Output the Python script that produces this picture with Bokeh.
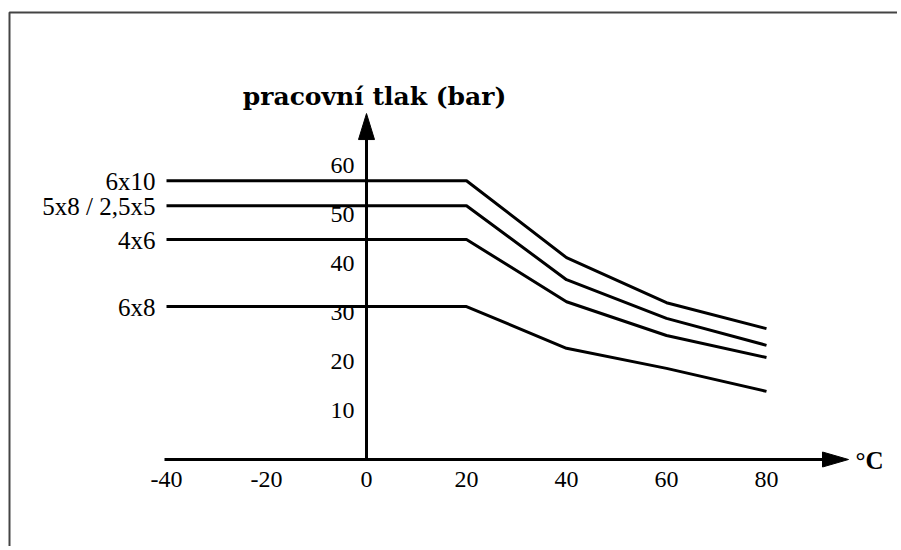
from bokeh.plotting import figure
from bokeh.models import LinearAxis, FixedTicker, Range1d
from bokeh.core.properties import value
from bokeh.embed import file_html
from bokeh.resources import INLINE

# ---------------- data ----------------
temps = [-40, 20, 40, 60, 80]
series_names = ["6x10", "5x8 / 2,5x5", "4x6", "6x8"]
p_6x10 = [56.9, 56.9, 41.2, 32.0, 26.7]
p_5x8 = [51.8, 51.8, 36.7, 28.8, 23.3]
p_4x6 = [44.9, 44.9, 32.2, 25.3, 20.8]
p_6x8 = [31.2, 31.2, 22.7, 18.6, 13.9]
x_ticks = [-40, -20, 0, 20, 40, 60, 80]
y_ticks = [10, 20, 30, 40, 50, 60]
y_title = "pracovní tlak (bar)"
x_title = "°C"
x_axis_start = -40.4
x_axis_tip = 96.4
y_axis_tip = 70.6

# ---------------- layout ----------------
W, H = 897, 546
X0_PX, PX_PER_X = 366.0, 5.0   # pixel of x=0 from figure left
Y0_PX, PX_PER_Y = 459.0, 4.9   # pixel of y=0 from figure top


def px_x(px):
    return (px - X0_PX) / PX_PER_X


def px_y(py):
    return (Y0_PX - py) / PX_PER_Y


SERIF = "Liberation Serif"

p = figure(width=W, height=H,
           x_range=Range1d(px_x(0), px_x(W)), y_range=Range1d(px_y(H), px_y(0)),
           output_backend="svg", toolbar_location=None,
           x_axis_type=None, y_axis_type=None, min_border=0,
           outline_line_color=None, background_fill_color="white",
           border_fill_color="white")

# frame border (only left and top visible in the reference)
p.line([px_x(9), px_x(9), px_x(W)], [px_y(H), px_y(12), px_y(12)],
       line_color="#444444", line_width=2)

# axes lines with arrow heads
p.line([x_axis_start, x_axis_tip - 24 / PX_PER_X], [0, 0], line_color="black", line_width=3)
p.line([0, 0], [0, y_axis_tip - 24 / PX_PER_Y], line_color="black", line_width=3)
p.patch([x_axis_tip, x_axis_tip - 26 / PX_PER_X, x_axis_tip - 26 / PX_PER_X],
        [0, 7.5 / PX_PER_Y, -7.5 / PX_PER_Y], color="black")
p.patch([0, 8 / PX_PER_X, -8 / PX_PER_X],
        [y_axis_tip, y_axis_tip - 26 / PX_PER_Y, y_axis_tip - 26 / PX_PER_Y], color="black")

# tick labels via axes at fixed locations
xaxis = LinearAxis(fixed_location=0, ticker=FixedTicker(ticks=x_ticks),
                   axis_line_color=None, major_tick_line_color=None,
                   minor_tick_line_color=None, major_tick_in=0, major_tick_out=0,
                   major_label_standoff=12,
                   major_label_overrides={t: str(t) for t in x_ticks},
                   major_label_text_font=SERIF, major_label_text_font_size="24px",
                   major_label_text_color="black")
p.add_layout(xaxis, "below")
yaxis = LinearAxis(fixed_location=0, ticker=FixedTicker(ticks=y_ticks),
                   axis_line_color=None, major_tick_line_color=None,
                   minor_tick_line_color=None, major_tick_in=0, major_tick_out=0,
                   major_label_standoff=12,
                   major_label_text_font=SERIF, major_label_text_font_size="24px",
                   major_label_text_color="black")
p.add_layout(yaxis, "left")

# series
all_series = [p_6x10, p_5x8, p_4x6, p_6x8]
for vals in all_series:
    p.line(temps, vals, line_color="black", line_width=3)

p.text(x=[temps[0]] * len(all_series), y=[s[0] for s in all_series], text=series_names,
       text_align="right", text_baseline="middle", x_offset=-11, y_offset=1,
       text_font=value(SERIF), text_font_size="25px", text_color="black")

# axis titles
p.text(x=[0], y=[y_axis_tip], text=[y_title], text_align="center",
       text_baseline="alphabetic", x_offset=8, y_offset=-17,
       text_font=value("DejaVu Serif"), text_font_style="bold",
       text_font_size="25px", text_color="black")
p.text(x=[x_axis_tip], y=[0], text=[x_title], text_align="left",
       text_baseline="middle", x_offset=7, y_offset=1,
       text_font=value(SERIF), text_font_style="bold",
       text_font_size="25px", text_color="black")

open("out.html", "w").write(file_html(p, INLINE))
